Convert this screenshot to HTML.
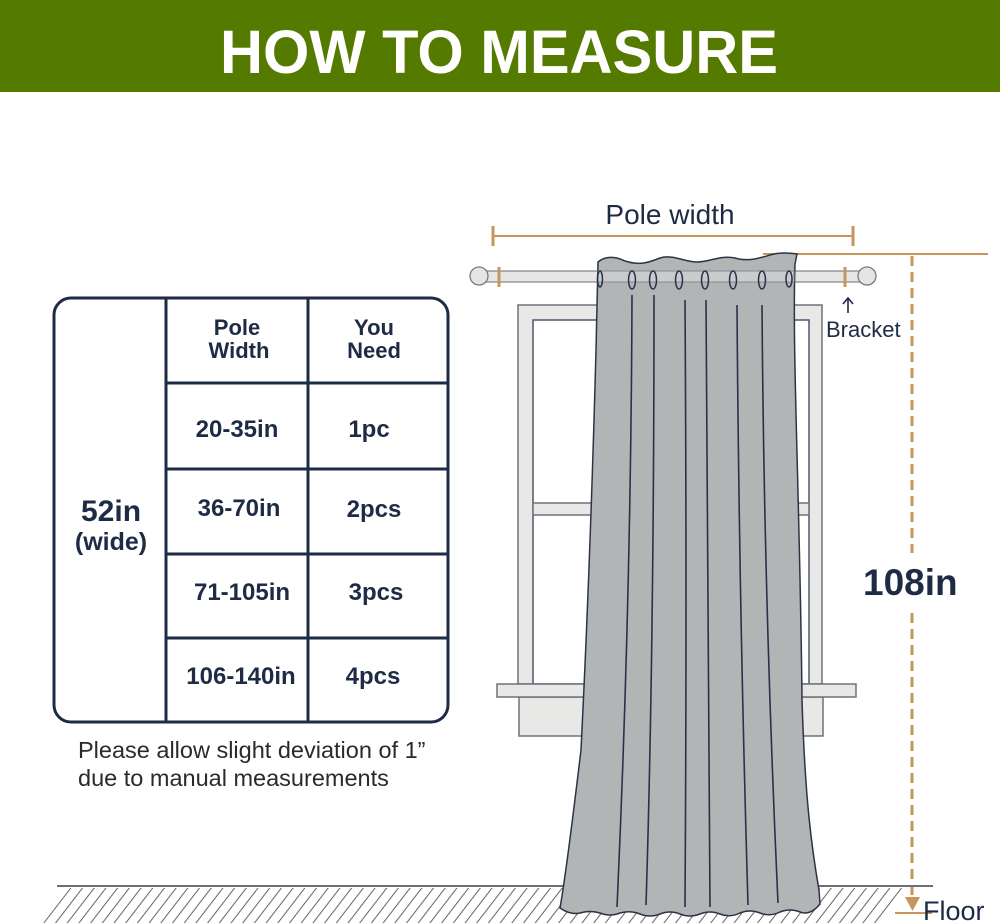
<!DOCTYPE html>
<html>
<head>
<meta charset="utf-8">
<style>
  html,body{margin:0;padding:0;background:#fff;}
  svg{display:block;}
  text{font-family:"Liberation Sans", Arial, sans-serif;}
</style>
</head>
<body>
<svg width="1000" height="923" viewBox="0 0 1000 923" xmlns="http://www.w3.org/2000/svg">
  <defs>
    <pattern id="hatch" patternUnits="userSpaceOnUse" width="11.7" height="40" patternTransform="skewX(-37.6)">
      <line x1="5.85" y1="-5" x2="5.85" y2="45" stroke="#5a5a5a" stroke-width="1.2"/>
    </pattern>
  </defs>

  <!-- Title bar -->
  <rect x="0" y="0" width="1000" height="92" fill="#547a00"/>
  <text x="499" y="73" font-size="61" font-weight="bold" fill="#ffffff" text-anchor="middle" textLength="558" lengthAdjust="spacingAndGlyphs">HOW TO MEASURE</text>

  <!-- Table -->
  <g stroke="#1e2b45" stroke-width="3" fill="none">
    <rect x="54" y="298" width="394" height="424" rx="17" ry="17"/>
    <line x1="166" y1="298" x2="166" y2="722"/>
    <line x1="308" y1="298" x2="308" y2="722"/>
    <line x1="166" y1="383" x2="448" y2="383"/>
    <line x1="166" y1="469" x2="448" y2="469"/>
    <line x1="166" y1="554" x2="448" y2="554"/>
    <line x1="166" y1="638" x2="448" y2="638"/>
  </g>
  <g fill="#1e2b45" font-weight="bold">
    <text x="237" y="335" font-size="22" text-anchor="middle">Pole</text>
    <text x="239" y="358" font-size="22" text-anchor="middle">Width</text>
    <text x="374" y="335" font-size="22" text-anchor="middle">You</text>
    <text x="374" y="358" font-size="22" text-anchor="middle">Need</text>

    <text x="111" y="521" font-size="30" text-anchor="middle">52in</text>
    <text x="111" y="550" font-size="25" text-anchor="middle">(wide)</text>

    <text x="237" y="437" font-size="24" text-anchor="middle">20-35in</text>
    <text x="369" y="437" font-size="24" text-anchor="middle">1pc</text>
    <text x="239" y="516" font-size="24" text-anchor="middle">36-70in</text>
    <text x="374" y="517" font-size="24" text-anchor="middle">2pcs</text>
    <text x="242" y="600" font-size="24" text-anchor="middle">71-105in</text>
    <text x="376" y="600" font-size="24" text-anchor="middle">3pcs</text>
    <text x="241" y="684" font-size="24" text-anchor="middle">106-140in</text>
    <text x="373" y="684" font-size="24" text-anchor="middle">4pcs</text>
  </g>
  <g fill="#2a2a2a" font-size="23.5">
    <text x="78" y="758">Please allow slight deviation of 1”</text>
    <text x="78" y="786">due to manual measurements</text>
  </g>

  <!-- Pole width dimension -->
  <text x="670" y="224" font-size="28" fill="#1e2b45" text-anchor="middle">Pole width</text>
  <g stroke="#c8955a" fill="none">
    <line x1="493" y1="236" x2="853" y2="236" stroke-width="2"/>
    <line x1="493" y1="226" x2="493" y2="246" stroke-width="3"/>
    <line x1="853" y1="226" x2="853" y2="246" stroke-width="3"/>
    <line x1="763" y1="254" x2="988" y2="254" stroke-width="2"/>
    <line x1="912" y1="256" x2="912" y2="553" stroke-width="3" stroke-dasharray="10 6"/>
    <line x1="912" y1="613" x2="912" y2="896" stroke-width="3" stroke-dasharray="10 6"/>
  </g>

  <!-- Window -->
  <g stroke="#6d737b" stroke-width="1.5">
    <rect x="518" y="305" width="304" height="379" fill="#e8e9e7"/>
    <rect x="533" y="320" width="276" height="364" fill="#ffffff" stroke="#4e576a"/>
    <rect x="533" y="503" width="276" height="12" fill="#e8e9e7"/>
    <rect x="519" y="697" width="304" height="39" fill="#e8e9e7"/>
    <rect x="497" y="684" width="359" height="13" fill="#e8e9e7"/>
  </g>

  <!-- Floor -->
  <polygon points="70,888 907,888 880,923 43,923" fill="url(#hatch)"/>
  <line x1="57" y1="886" x2="933" y2="886" stroke="#6f6f6f" stroke-width="2"/>

  <!-- Pole rod -->
  <rect x="484" y="271" width="378" height="11" fill="#e6e6e6" stroke="#858a90" stroke-width="1.3"/>
  <circle cx="479" cy="276" r="9" fill="#e4e4e4" stroke="#777c82" stroke-width="1.3"/>
  <circle cx="867" cy="276" r="9" fill="#e4e4e4" stroke="#777c82" stroke-width="1.3"/>
  <g stroke="#c8955a" stroke-width="3">
    <line x1="499" y1="267" x2="499" y2="287"/>
    <line x1="845" y1="267" x2="845" y2="287"/>
  </g>

  <!-- Curtain -->
  <path d="M598,262 C605,256 615,256 625,261 C640,266 650,262 660,258 C672,254 685,262 697,262 C710,262 720,255 735,258 C748,262 760,258 770,255 C780,252 790,253 797,254 L795,264 C792,350 800,500 802,700 C805,800 812,850 819,890 L820,904
           Q810,916 800,912 Q790,908 780,912 Q770,917 760,913 Q750,909 740,913 Q730,918 720,914 Q710,910 700,914 Q690,918 680,914 Q670,910 660,914 Q650,918 640,914 Q630,910 620,913 Q610,917 600,913 Q590,910 580,913 Q570,915 560,908
           C565,880 575,800 581,750 C586,650 592,500 596,350 Z"
        fill="#b2b5b6" stroke="#2c3344" stroke-width="1.5"/>
  <!-- rod visible across curtain header -->
  <rect x="598" y="271" width="196" height="11" fill="#c9cbcc" stroke="#858a90" stroke-width="1"/>

  <!-- Fold lines -->
  <g stroke="#27314a" stroke-width="1.6" fill="none">
    <path d="M632,295 Q631,600 617,907"/>
    <path d="M654,295 Q654,650 646,905"/>
    <path d="M685,300 Q687,600 685,907"/>
    <path d="M706,300 Q707,600 710,907"/>
    <path d="M737,305 Q739,600 748,905"/>
    <path d="M762,305 Q764,600 778,903"/>
  </g>
  <!-- Rings -->
  <g stroke="#27314a" stroke-width="1.5" fill="none">
    <ellipse cx="600" cy="279" rx="2.5" ry="8"/>
    <ellipse cx="632" cy="280" rx="3.5" ry="9"/>
    <ellipse cx="653" cy="280" rx="3.5" ry="9"/>
    <ellipse cx="679" cy="280" rx="3.5" ry="9"/>
    <ellipse cx="705" cy="280" rx="3.5" ry="9"/>
    <ellipse cx="733" cy="280" rx="3.5" ry="9"/>
    <ellipse cx="762" cy="280" rx="3.5" ry="9"/>
    <ellipse cx="789" cy="279" rx="3" ry="8"/>
  </g>

  <!-- Bracket label -->
  <g stroke="#1e2b45" stroke-width="1.6" fill="none">
    <line x1="848" y1="299" x2="848" y2="313"/>
    <polyline points="843,304 848,298 853,304"/>
  </g>
  <text x="826" y="337" font-size="22" fill="#1e2b45">Bracket</text>

  <!-- 108in -->
  <text x="863" y="595" font-size="37" font-weight="bold" fill="#1e2b45">108in</text>

  <!-- Floor arrow -->
  <polygon points="905,897 920,897 912.5,911" fill="#c8955a"/>
  <line x1="895" y1="913" x2="932" y2="913" stroke="#c8955a" stroke-width="2"/>
  <text x="923" y="920" font-size="27" fill="#1e2b45">Floor</text>
</svg>
</body>
</html>
